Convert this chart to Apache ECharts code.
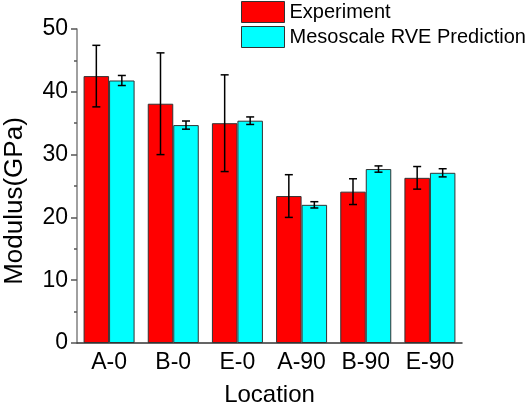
<!DOCTYPE html>
<html>
<head>
<meta charset="utf-8">
<script src="https://cdn.jsdelivr.net/npm/echarts@6/dist/echarts.min.js"></script>
<style>
  html, body { margin: 0; padding: 0; background: #fff; }
  #chart { width: 527px; height: 406px; }
</style>
</head>
<body>
<div id="chart"></div>
<script>
var locations = ['A-0', 'B-0', 'E-0', 'A-90', 'B-90', 'E-90']
var experiment = [42.5, 38.1, 35.0, 23.4, 24.1, 26.3]
var experimentErr = [4.9, 8.1, 7.7, 3.4, 2.05, 1.8]
var prediction = [41.8, 34.7, 35.4, 22.0, 27.7, 27.1]
var predictionErr = [0.8, 0.65, 0.6, 0.5, 0.5, 0.65]

var font = 'Liberation Sans, Arial, sans-serif'
var barW = 25.5

// error bar drawn as custom series, shifted to sit on its bar
function errorSeries(values, errs, shift) {
  var data = values.map(function (v, i) { return [i, v - errs[i], v + errs[i]] })
  return {
    type: 'custom',
    z: 10,
    silent: true,
    renderItem: function (params, api) {
      var lo = api.coord([api.value(0), api.value(1)])
      var hi = api.coord([api.value(0), api.value(2)])
      var x = lo[0] + shift
      var cap = 4
      var style = { stroke: '#000', lineWidth: 1.5 }
      return {
        type: 'group',
        children: [
          { type: 'line', shape: { x1: x, y1: lo[1], x2: x, y2: hi[1] }, style: style },
          { type: 'line', shape: { x1: x - cap, y1: lo[1], x2: x + cap, y2: lo[1] }, style: style },
          { type: 'line', shape: { x1: x - cap, y1: hi[1], x2: x + cap, y2: hi[1] }, style: style }
        ]
      }
    },
    encode: { x: 0, y: [1, 2] },
    data: data
  }
}

var chart = echarts.init(document.getElementById('chart'))
var option = {
  animation: false,
  textStyle: { fontFamily: font },
  legend: {
    orient: 'vertical',
    left: 241,
    top: 1,
    itemWidth: 43,
    itemHeight: 21,
    itemGap: 3,
    padding: 0,
    icon: 'rect',
    textStyle: { fontSize: 20, color: '#000', fontFamily: font },
    data: [
      { name: 'Experiment', itemStyle: { color: '#ff0000', borderColor: '#333', borderWidth: 1 } },
      { name: 'Mesoscale RVE Prediction', itemStyle: { color: '#00ffff', borderColor: '#333', borderWidth: 1 } }
    ]
  },
  grid: { left: 77, right: 65, top: 29, bottom: 63, outerBoundsMode: 'none' },
  xAxis: [
    {
      type: 'category',
      data: locations,
      name: 'Location',
      nameLocation: 'middle',
      nameGap: 40,
      nameTextStyle: { fontSize: 24, color: '#000', fontFamily: font },
      axisLine: { lineStyle: { color: '#333', width: 1.5 } },
      axisTick: { alignWithLabel: true, length: 5, lineStyle: { color: '#333', width: 1.5 } },
      axisLabel: { fontSize: 23, color: '#000', margin: 8, fontFamily: font }
    },
    {
      type: 'category',
      data: locations,
      position: 'bottom',
      axisLine: { show: false },
      axisTick: { length: 3, lineStyle: { color: '#333', width: 1.5 } },
      axisLabel: { show: false }
    }
  ],
  yAxis: {
    type: 'value',
    min: 0,
    max: 50,
    interval: 10,
    name: 'Modulus(GPa)',
    nameLocation: 'middle',
    nameGap: 49,
    nameTextStyle: { fontSize: 26, color: '#000', fontFamily: font, padding: [0, 30, 0, 0] },
    axisLine: { show: true, lineStyle: { color: '#808080', width: 1.5 } },
    axisTick: { show: true, length: 6, lineStyle: { color: '#555', width: 1.5 } },
    minorTick: { show: true, splitNumber: 2, length: 3, lineStyle: { color: '#555', width: 1.5 } },
    splitLine: { show: false },
    axisLabel: { fontSize: 23, color: '#000', margin: 9, fontFamily: font }
  },
  series: [
    {
      name: 'Experiment',
      type: 'bar',
      barWidth: barW,
      barGap: '0%',
      itemStyle: { color: '#ff0000', borderColor: '#333', borderWidth: 1 },
      data: experiment
    },
    {
      name: 'Mesoscale RVE Prediction',
      type: 'bar',
      barWidth: barW,
      barGap: '0%',
      itemStyle: { color: '#00ffff', borderColor: '#333', borderWidth: 1 },
      data: prediction
    },
    errorSeries(experiment, experimentErr, -barW / 2),
    errorSeries(prediction, predictionErr, barW / 2)
  ]
}
chart.setOption(option)
</script>
</body>
</html>
